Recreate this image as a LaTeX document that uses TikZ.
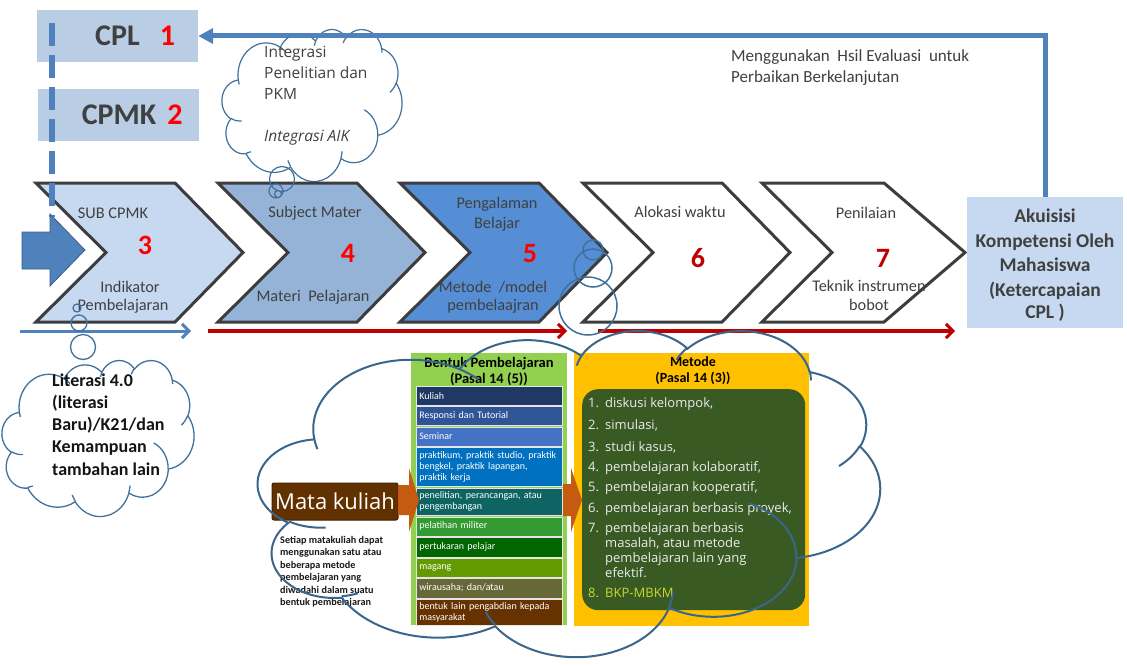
\documentclass[tikz,border=0pt]{standalone}
\usepackage{fontspec}
\setmainfont{Carlito}
\newfontfamily\osans{Open Sans}
\usetikzlibrary{arrows.meta}

\definecolor{ink}{HTML}{404040}
\definecolor{paleblue}{HTML}{B9CDE5}
\definecolor{lightblue}{HTML}{C6D9F1}
\definecolor{midblue}{HTML}{95B3D7}
\definecolor{deepblue}{HTML}{558ED5}
\definecolor{lineblue}{HTML}{4F81BD}
\definecolor{arrowedge}{HTML}{385D8A}
\definecolor{cloudblue}{HTML}{41719C}
\definecolor{numred}{HTML}{FF0000}
\definecolor{darkred}{HTML}{C00000}
\definecolor{leaf}{HTML}{92D050}
\definecolor{amber}{HTML}{FFC000}
\definecolor{forest}{HTML}{3A5A24}
\definecolor{rust}{HTML}{C55A11}
\definecolor{cocoa}{HTML}{623100}
\definecolor{limeink}{HTML}{C6D92E}
\definecolor{rowA}{HTML}{1F3864}
\definecolor{rowB}{HTML}{2F5597}
\definecolor{rowC}{HTML}{4472C4}
\definecolor{rowD}{HTML}{0070C0}
\definecolor{rowE}{HTML}{0E6462}
\definecolor{rowF}{HTML}{349A34}
\definecolor{rowG}{HTML}{006600}
\definecolor{rowH}{HTML}{639A00}
\definecolor{rowI}{HTML}{676738}
\definecolor{rowJ}{HTML}{663300}

\newcommand\fsz[2]{\fontsize{#1}{#2}\selectfont}

% one arc of an Office-style cloud: radii, start angle and sweep (visual angles)
\newcommand\cloudarc[4]{arc[x radius=#1, y radius=#2,
  start angle={atan2(#1*sin(#3),#2*cos(#3))},
  delta angle={mod(atan2(#1*sin(#3+#4),#2*cos(#3+#4))-atan2(#1*sin(#3),#2*cos(#3))+720,360)}]}

% cloud shape in the frame (x,y,width,height): outline plus inner puff strokes
\newcommand\officecloud[5]{%
\begin{scope}[shift={(#2,#3)}, x=1pt, y=1pt, xscale=#4/432, yscale=-#5/432]
  \draw[#1] (39.00,143.70)
    \cloudarc{67.53}{91.90}{-190.4875}{123.7805}
    \cloudarc{53.33}{72.67}{-144.1024}{89.9452}
    \cloudarc{43.65}{59.45}{-145.8079}{99.7230}
    \cloudarc{48.57}{65.95}{-130.9861}{117.2417}
    \cloudarc{53.33}{72.73}{-78.7089}{109.0269}
    \cloudarc{67.75}{92.20}{-46.2673}{130.2690}
    \cloudarc{57.85}{78.67}{0.6250}{114.0333}
    \cloudarc{67.52}{92.15}{22.4516}{115.1726}
    \cloudarc{77.20}{105.43}{66.2426}{75.7110}
    \cloudarc{43.60}{59.18}{-274.9421}{146.7356}
    \cloudarc{43.45}{59.45}{-246.8285}{152.5189}
    -- cycle;
  \draw[#1, fill=none]
    (46.93,261.77) \cloudarc{43.45}{59.45}{86.7420}{26.4295}
    (69.28,348.99) \cloudarc{43.60}{59.18}{73.6105}{11.4475}
    (164.78,390.90) \cloudarc{67.52}{92.15}{137.6242}{14.0811}
    (288.27,347.51) \cloudarc{67.52}{92.15}{6.4533}{15.9984}
    (341.29,229.54) \cloudarc{57.85}{78.67}{-70.2924}{70.9174}
    (417.98,153.54) \cloudarc{53.33}{72.73}{30.3180}{27.7515}
    (383.24,54.26) \cloudarc{48.57}{65.95}{-13.7443}{14.8589}
    (290.78,39.52) \cloudarc{48.57}{65.95}{-149.1815}{18.1954}
    (221.41,47.20) \cloudarc{43.65}{59.45}{-163.4943}{17.6864}
    (140.00,51.92) \cloudarc{67.53}{91.90}{-66.7070}{12.3194}
    (41.27,157.89) \cloudarc{67.53}{91.90}{157.6544}{11.8582};
\end{scope}}

% chevron step: left x, width, fill colour
\newcommand\chevron[3]{%
  \draw[chevline, fill=#3] (#1,183) -- ++(#2-68,0) -- ++(68,69.5) -- ++(-68,69.5)
    -- (#1,322) -- ++(70,-69.5) -- cycle;}

\begin{document}
\begin{tikzpicture}[x=1pt, y=-1pt, line join=miter,
  chevline/.style={draw=ink!95!black, line width=3pt},
  chevtext/.style={text=ink, font=\fsz{16.3}{18}, anchor=base, inner sep=0pt},
  bignum/.style={font=\bfseries\fsz{28}{30}, anchor=base, inner sep=0pt},
  hdr/.style={font=\bfseries\fsz{30}{32}, anchor=base, inner sep=0pt},
  thin cloud/.style={draw=cloudblue, line width=1.2pt},
  igtext/.style={font=\osans\fsz{15.5}{17}, text=ink, anchor=base west, inner sep=0},
  aktext/.style={font=\bfseries\fsz{19.5}{21}, text=ink, anchor=base, inner sep=0},
  brow/.style={draw=white!80!gray, line width=0.6pt, anchor=north west, inner sep=3pt,
    minimum width=146pt, text width=140pt, align=left, text=white,
    font=\fsz{10}{11.4}},
  mnum/.style={text=white!92!black, font=\osans\fsz{13}{15}, anchor=base west, inner sep=0pt},
  barb/.style={-{Straight Barb[length=7pt,width=14pt,line width=3pt]}}]

\useasboundingbox (0,0) rectangle (1127,666);
\fill[white] (0,0) rectangle (1127,666);

% ---------- CPL and CPMK ----------
\node[fill=paleblue, minimum width=161pt, minimum height=52pt, inner sep=0] (cpl) at (117.5,36) {};
\node[hdr, text=ink] (cpltxt) at (117.5,46) {CPL};
\node[hdr, text=numred] (cplnum) at (167.5,46) {1};
\node[fill=paleblue, minimum width=161pt, minimum height=52pt, inner sep=0] (cpmk) at (118.5,115) {};
\node[hdr, text=ink] (cpmktxt) at (119,125) {CPMK};
\node[hdr, text=numred] (cpmknum) at (175,125) {2};

% ---------- thought cloud above the steps ----------
\officecloud{thin cloud, fill=white}{222}{29}{180}{152}
\node[igtext] (ig1) at (264,58) {Integrasi};
\node[igtext] (ig2) at (264,79) {Penelitian dan};
\node[igtext] (ig3) at (264,100) {PKM};
\node[igtext, font=\osans\itshape\fsz{15.5}{17}] (ig4) at (264,142) {Integrasi AIK};

% ---------- process chevrons ----------
\chevron{36}{207}{lightblue}
\chevron{218}{207}{midblue}
\chevron{400}{207}{deepblue}
\chevron{583}{207}{white}
\draw[chevline, fill=white] (762,183) -- (884,183) -- (965,252.5) -- (884,322) -- (762,322) -- (832,252.5) -- cycle;

% bubbles from the thought cloud, lying over step 4
\draw[thin cloud] (282,179) circle[radius=12.5] (276,191) circle[radius=7] (278,194) circle[radius=3.5];

\node[chevtext] (s3a) at (113,218) {SUB CPMK};
\node[bignum, text=numred] (s3n) at (145,254) {3};
\node[chevtext] (s3b) at (130,292) {Indikator};
\node[chevtext] (s3c) at (123,310) {Pembelajaran};

\node[chevtext] (s4a) at (315,217) {Subject Mater};
\node[bignum, text=numred] (s4n) at (348,262) {4};
\node[chevtext] (s4b) at (313,301) {Materi\ \ Pelajaran};

\node[chevtext] (s5a) at (497,208) {Pengalaman};
\node[chevtext] (s5b) at (497,228) {Belajar};
\node[bignum, text=numred] (s5n) at (530,262) {5};
\node[chevtext] (s5c) at (493,292) {Metode \ /model};
\node[chevtext] (s5d) at (493,310) {pembelaajran};

\node[chevtext] (s6a) at (680,217) {Alokasi waktu};
\node[bignum, text=darkred] (s6n) at (698,267) {6};

\node[chevtext] (s7a) at (866,218) {Penilaian};
\node[bignum, text=darkred] (s7n) at (883,267) {7};
\node[chevtext] (s7b) at (869,291) {Teknik instrumen};
\node[chevtext] (s7c) at (869,310) {bobot};

% dashed link from CPL down to the first step
\coordinate (dtop) at (52,23);
\coordinate (dbot) at (52,217);
\draw[lineblue, line width=6pt, dash pattern=on 23pt off 9pt] (dtop) -- (dbot);

% block arrow into the first step
\draw[fill=lineblue, draw=arrowedge, line width=0.8pt]
  (22,232) -- (50,232) -- (50,214) -- (85,250) -- (50,286) -- (50,269) -- (22,269) -- cycle;

% ---------- outcome box and feedback loop ----------
\node[fill=lightblue, minimum width=156pt, minimum height=131pt, inner sep=0] (aku) at (1045,262.5) {};
\node[aktext] (ak1) at (1045,222) {Akuisisi};
\node[aktext] (ak2) at (1045,247) {Kompetensi Oleh};
\node[aktext] (ak3) at (1045,271) {Mahasiswa};
\node[aktext] (ak4) at (1045,296) {(Ketercapaian};
\node[aktext] (ak5) at (1045,318) {CPL )};

\draw[lineblue, line width=5pt, -{Triangle[length=15pt,width=15pt]}] (aku.north) |- (cpl.east);
\node[font=\fsz{17}{19}, text=ink, anchor=base west, inner sep=0] (fb1) at (731,62) {Menggunakan \ Hsil Evaluasi \ untuk};
\node[font=\fsz{17}{19}, text=ink, anchor=base west, inner sep=0] (fb2) at (731,83) {Perbaikan Berkelanjutan};

% ---------- timeline arrows ----------
\coordinate (b0) at (20,331);   \coordinate (b1) at (191,331);
\coordinate (r0) at (208,331);  \coordinate (r1) at (567,331);
\coordinate (r2) at (598,331);  \coordinate (r3) at (955,331);
\draw[lineblue, line width=3pt, barb] (b0) -- (b1);
\draw[darkred, line width=3.5pt, barb] (r0) -- (r1);
\draw[darkred, line width=3.5pt, barb] (r2) -- (r3);

% ---------- literacy cloud ----------
\draw[draw=cloudblue, line width=1.3pt] (77,308) circle[radius=4] (79,323) circle[radius=8] (83,347) circle[radius=12.5];
\officecloud{draw=cloudblue, line width=1.3pt, fill=white}{2}{360}{192}{156}
\foreach \t [count=\i] in {{Literasi 4.0},{(literasi},{Baru)/K21/dan},{Kemampuan},{tambahan lain}}
  \node[font=\bfseries\fsz{18}{20}, text=black!92, anchor=base west, inner sep=0] (lit\i) at (52,386+22.3*\i-22.3) {\t};

% ---------- course, forms and methods ----------
\node[fill=cocoa, draw=cocoa!70!black, line width=1pt, rounded corners=2pt, minimum width=126pt,
  minimum height=37pt, inner sep=0, text=white, font=\osans\fsz{22}{24}] (mk) at (335,501.5) {Mata kuliah};
\foreach \t [count=\i] in {Setiap matakuliah dapat,menggunakan satu atau,beberapa metode,pembelajaran yang,diwadahi dalam suatu,bentuk pembelajaran}
  \node[font=\bfseries\fsz{10.2}{12}, text=black!90, anchor=base west, inner sep=0] (note\i) at (280,543.4+12.5*\i-12.5) {\t};

% forms of learning
\node[fill=leaf, minimum width=156pt, minimum height=272pt, anchor=north west, inner sep=0] (forms) at (411,353) {};
\node[font=\bfseries\fsz{14.5}{16}, anchor=base, inner sep=0] (fh1) at (489,367) {Bentuk Pembelajaran};
\node[font=\bfseries\fsz{14.5}{16}, anchor=base, inner sep=0] (fh2) at (489,383) {(Pasal 14 (5))};
\node[brow, fill=rowA, minimum height=19pt] (f1) at (416,386) {Kuliah};
\node[brow, fill=rowB, minimum height=19pt] (f2) at (416,406) {Responsi dan Tutorial};
\node[brow, fill=rowC, minimum height=19pt] (f3) at (416,426.5) {Seminar};
\node[brow, fill=rowD, minimum height=39pt] (f4) at (416,447) {praktikum, praktik studio, praktik\\ bengkel, praktik lapangan,\\ praktik kerja};
\node[brow, fill=rowE, minimum height=27pt] (f5) at (416,487.5) {penelitian, perancangan, atau\\ pengembangan};
\node[brow, fill=rowF, minimum height=19pt] (f6) at (416,516.5) {pelatihan militer};
\node[brow, fill=rowG, minimum height=19.5pt] (f7) at (416,537) {pertukaran pelajar};
\node[brow, fill=rowH, minimum height=19.5pt] (f8) at (416,557.5) {magang};
\node[brow, fill=rowI, minimum height=19.5pt] (f9) at (416,578) {wirausaha; dan/atau};
\node[brow, fill=rowJ, minimum height=24pt] (f10) at (416,599) {bentuk lain pengabdian kepada\\ masyarakat};

% methods
\node[fill=amber, minimum width=235pt, minimum height=273pt, anchor=north west, inner sep=0] (methods) at (574,352.5) {};
\node[font=\bfseries\fsz{14}{16}, anchor=base, inner sep=0] (mh1) at (693,366) {Metode};
\node[font=\bfseries\fsz{14}{16}, anchor=base, inner sep=0] (mh2) at (693,382) {(Pasal 14 (3))};
\node[fill=forest, rounded corners=16pt, minimum width=223pt, minimum height=221pt, anchor=north west, inner sep=0] (mlist) at (582,389) {};
\node[mnum] (mn1) at (588,407.5) {1.}; \node[mnum] (mt1) at (605,407.5) {diskusi kelompok,};
\node[mnum] (mn2) at (588,429.5) {2.}; \node[mnum] (mt2) at (605,429.5) {simulasi,};
\node[mnum] (mn3) at (588,451.5) {3.}; \node[mnum] (mt3) at (605,451.5) {studi kasus,};
\node[mnum] (mn4) at (588,471.5) {4.}; \node[mnum] (mt4) at (605,471.5) {pembelajaran kolaboratif,};
\node[mnum] (mn5) at (588,491.5) {5.}; \node[mnum] (mt5) at (605,491.5) {pembelajaran kooperatif,};
\node[mnum] (mn6) at (588,512.5) {6.}; \node[mnum] (mt6) at (605,512.5) {pembelajaran berbasis proyek,};
\node[mnum] (mn7) at (588,532.5) {7.};
\node[mnum] (mt7a) at (605,532.5) {pembelajaran berbasis};
\node[mnum] (mt7b) at (605,547.5) {masalah, atau metode};
\node[mnum] (mt7c) at (605,562.5) {pembelajaran lain yang};
\node[mnum] (mt7d) at (605,577.5) {efektif.};
\node[mnum, text=limeink] (mn8) at (588,597.5) {8.};
\node[mnum, text=limeink] (mt8) at (605,597.5) {BKP-MBKM};

% block arrows: course -> forms -> methods
\fill[rust] (398,485) -- (409,485) -- (409,468) -- (419,500) -- (409,532) -- (409,515) -- (398,515) -- cycle;
\fill[rust] (563,484) -- (571,484) -- (571,468) -- (582,500) -- (571,532) -- (571,516) -- (563,516) -- cycle;

% large cloud around the course block, with bubbles up to step 5
\officecloud{draw=cloudblue!90!black, line width=2pt}{258}{330}{622}{326}
\draw[draw=cloudblue, line width=1.5pt] (593,250) circle[radius=10] (593,268) circle[radius=19] (588,306) circle[radius=29];

\end{tikzpicture}
\end{document}
